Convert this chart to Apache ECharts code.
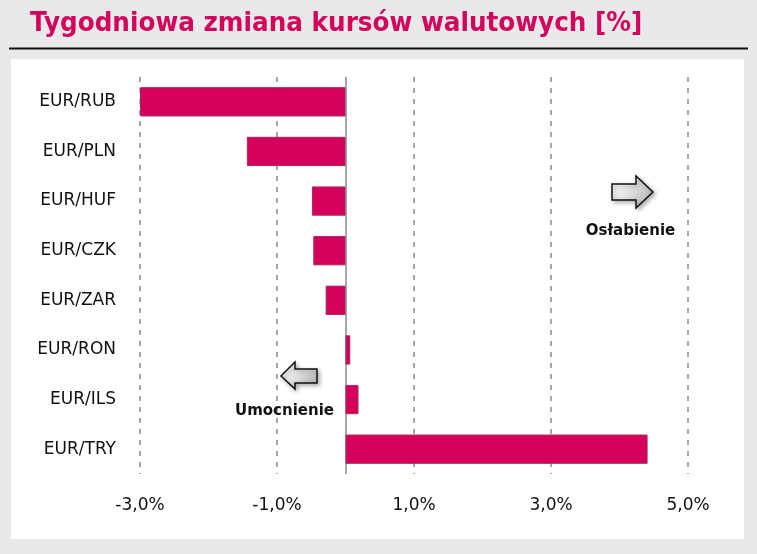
<!DOCTYPE html>
<html>
<head>
<meta charset="utf-8">
<script src="https://cdn.jsdelivr.net/npm/echarts@6/dist/echarts.min.js"></script>
<style>
html,body{margin:0;padding:0;background:#e9e9eb;}
#chart{width:757px;height:554px;}
</style>
</head>
<body>
<div id="chart"></div>
<script>
const titleText = 'Tygodniowa zmiana kursów walutowych [%]';
const categories = ['EUR/RUB','EUR/PLN','EUR/HUF','EUR/CZK','EUR/ZAR','EUR/RON','EUR/ILS','EUR/TRY'];
const values = [-3.0, -1.44, -0.49, -0.47, -0.29, 0.07, 0.19, 4.41];
const tickValues = [-3, -1, 1, 3, 5];
const noteRight = 'Osłabienie';
const noteLeft = 'Umocnienie';

const chart = echarts.init(document.getElementById('chart'), null, {renderer:'canvas'});

function arrowGrad(){
  return new echarts.graphic.LinearGradient(0,0,1,1,[
    {offset:0,color:'#ffffff'},{offset:0.4,color:'#e6e6e6'},{offset:1,color:'#a8a8a8'}
  ]);
}

const option = {
  backgroundColor: '#e9e9eb',
  animation: false,
  grid: {left:140, right:69, top:77, bottom:80, containLabel:false},
  xAxis: {
    type:'value', min:-3, max:5, interval:1,
    axisLine:{show:false}, axisTick:{show:false}, splitLine:{show:false},
    axisLabel:{
      customValues: tickValues,
      margin: 23,
      fontFamily:'DejaVu Sans', fontSize:17, color:'#111',
      formatter: v => v.toFixed(1).replace('.', ',') + '%'
    }
  },
  yAxis: {
    type:'category', data: categories, inverse:true,
    axisLine:{show:false}, axisTick:{show:false}, splitLine:{show:false},
    axisLabel:{margin:24, fontFamily:'DejaVu Sans', fontSize:17, color:'#111'}
  },
  graphic: [
    {type:'rect', silent:true, shape:{x:11,y:59,width:733,height:480}, style:{fill:'#ffffff'}, z:-10},
    {type:'rect', silent:true, shape:{x:9,y:47.5,width:739,height:2}, style:{fill:'#111'}, z:10},
    {type:'text', silent:true, x:30, y:24, scaleX:0.915, z:10,
      style:{text:titleText, fontFamily:'DejaVu Sans', fontWeight:'bold', fontSize:27, fill:'#d3045b', verticalAlign:'middle', align:'left'}},
    {type:'polygon', silent:true, z:10,
      shape:{points:[[612,184],[636,184],[636,176],[653,192],[636,208],[636,200],[612,200]]},
      style:{fill:arrowGrad(), stroke:'#111', lineWidth:1.5, shadowBlur:4, shadowOffsetX:2, shadowOffsetY:2, shadowColor:'rgba(0,0,0,0.3)'}},
    {type:'polygon', silent:true, z:10,
      shape:{points:[[317,369],[295,369],[295,362],[281,376],[295,389],[295,383],[317,383]]},
      style:{fill:arrowGrad(), stroke:'#111', lineWidth:1.5, shadowBlur:4, shadowOffsetX:2, shadowOffsetY:2, shadowColor:'rgba(0,0,0,0.3)'}},
    {type:'text', silent:true, x:630.5, y:231, z:10,
      style:{text:noteRight, fontFamily:'DejaVu Sans', fontWeight:'bold', fontSize:15, fill:'#111', align:'center', verticalAlign:'middle'}},
    {type:'text', silent:true, x:284.5, y:411, z:10,
      style:{text:noteLeft, fontFamily:'DejaVu Sans', fontWeight:'bold', fontSize:15, fill:'#111', align:'center', verticalAlign:'middle'}}
  ],
  series: [{
    type:'bar',
    data: values,
    barCategoryGap:'41%',
    itemStyle:{color:'#d4005b', borderColor:'#a52a5c', borderWidth:1},
    markLine:{
      silent:true, symbol:'none', z:1, animation:false,
      label:{show:false},
      data: tickValues.map(v => ({xAxis:v, lineStyle:{type:[5,6], color:'#8a8a8a', width:1.5}}))
        .concat([{xAxis:0, lineStyle:{type:'solid', color:'#8a8a8a', width:1.5}}])
    }
  }]
};
chart.setOption(option);
</script>
</body>
</html>
